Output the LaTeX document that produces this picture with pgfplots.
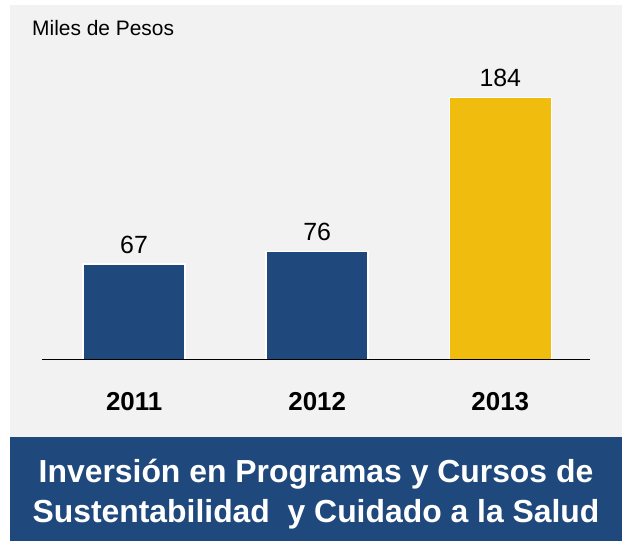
\documentclass[border=0pt]{standalone}
\usepackage{pgfplots}
\pgfplotsset{compat=1.18}
\usepackage{fontspec}
\setmainfont{Liberation Sans}
\definecolor{bgGray}{RGB}{242,242,242}
\definecolor{barBlue}{RGB}{31,73,125}
\definecolor{barGold}{RGB}{240,188,14}
\begin{document}
\begin{tikzpicture}[x=1bp,y=1bp]
\path[use as bounding box, fill=white] (0,0) rectangle (627,541);
\fill[bgGray] (10,104) rectangle (622,536);
\fill[barBlue] (10,0) rectangle (622,104);
\node[anchor=base west, inner sep=0pt, font=\fontsize{21}{25}\selectfont] at (32,505) {Miles de Pesos};
\node[anchor=base, inner sep=0pt, text=white, font=\fontsize{32}{38}\selectfont\bfseries] at (316,58) {Inversión en Programas y Cursos de};
\node[anchor=base, inner sep=0pt, text=white, font=\fontsize{32}{38}\selectfont\bfseries] at (316,18) {Sustentabilidad\ \ y Cuidado a la Salud};
\begin{axis}[
  at={(42bp,181.5bp)}, anchor=south west,
  scale only axis, width=548bp, height=284.8bp,
  xmin=-0.503, xmax=2.49, ymin=0, ymax=200,
  axis x line*=bottom, axis y line=none,
  x axis line style={black, line width=1.5bp, -},
  axis on top,
  xtick={0,1,2}, xticklabels={2011,2012,2013},
  major tick length=0,
  xticklabel style={font=\fontsize{26}{30}\selectfont\bfseries, inner sep=0pt, yshift=-33bp},
  ybar, bar width=102bp, bar shift=0pt,
  clip=false,
  /pgf/number format/assume math mode=true,
  nodes near coords,
  every node near coord/.append style={font=\fontsize{25}{30}\selectfont, inner sep=0pt, yshift=10bp, text=black},
]
\addplot[fill=barBlue, draw=white, line width=1.5bp] coordinates {(0,67) (1,76)};
\addplot[fill=barGold, draw=white, line width=1.5bp] coordinates {(2,184)};
\end{axis}
\end{tikzpicture}
\end{document}
